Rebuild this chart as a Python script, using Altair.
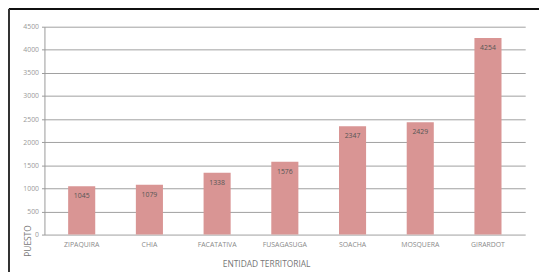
import altair as alt
import pandas as pd

entidades = ["ZIPAQUIRA", "CHIA", "FACATATIVA", "FUSAGASUGA", "SOACHA", "MOSQUERA", "GIRARDOT"]
puestos = [1045, 1079, 1338, 1576, 2347, 2429, 4254]
y_ticks = [0, 500, 1000, 1500, 2000, 2500, 3000, 3500, 4000, 4500]

df = pd.DataFrame({"entidad": entidades, "puesto": puestos})

W, H = 488, 211
FONT = "Open Sans"

x = alt.X("entidad:N", sort=entidades,
          scale=alt.Scale(paddingInner=0.6, paddingOuter=0.35),
          axis=alt.Axis(title="ENTIDAD TERRITORIAL", labelAngle=0, labelFont=FONT,
                        labelFontSize=7, labelColor="#8a8a8a", labelPadding=6,
                        ticks=False, domain=False, titleFont=FONT, titleFontSize=8.5,
                        titleFontWeight="normal", titleColor="#777777",
                        titleX=225, titleY=25, titleBaseline="top", titleAlign="center"))
y = alt.Y("puesto:Q", scale=alt.Scale(domain=[0, 4500], nice=False),
          axis=alt.Axis(title="PUESTO", values=y_ticks, format="d", labelFont=FONT,
                        labelFontSize=7, labelColor="#9a9a9a", labelPadding=3,
                        labelOverlap=False, labelBound=False, labelFlush=False,
                        tickSize=3, tickColor="#999999", domainColor="#999999",
                        gridColor="#a0a0a0", gridWidth=1, titleFont=FONT,
                        titleFontSize=8.5, titleFontWeight="normal", titleColor="#777777",
                        titleAngle=270, titleAlign="left", titleBaseline="middle",
                        titleX=-17, titleY=233))

base = alt.Chart(df).encode(x=x, y=y)
bars = base.mark_bar(color="#d99594")
labels = base.mark_text(font=FONT, fontSize=7, color="#555555", dy=10,
                        baseline="middle").encode(text="puesto:Q")

frame_top = alt.Chart(df).mark_rule(color="#111111", strokeWidth=1.5, clip=False).encode(
    x=alt.value(-36), x2=alt.value(W + 20), y=alt.value(-18))
frame_left = alt.Chart(df).mark_rule(color="#333333", strokeWidth=1, clip=False).encode(
    x=alt.value(-36), y=alt.value(-18), y2=alt.value(H + 40))

chart = alt.layer(bars, labels, frame_top, frame_left).properties(
    width=W, height=H, autosize="none",
    padding={"left": 37, "top": 17, "right": 14, "bottom": 36},
    background="white"
).configure_view(stroke=None)

chart.save("out.html", embed_options={"renderer": "svg", "actions": False})
